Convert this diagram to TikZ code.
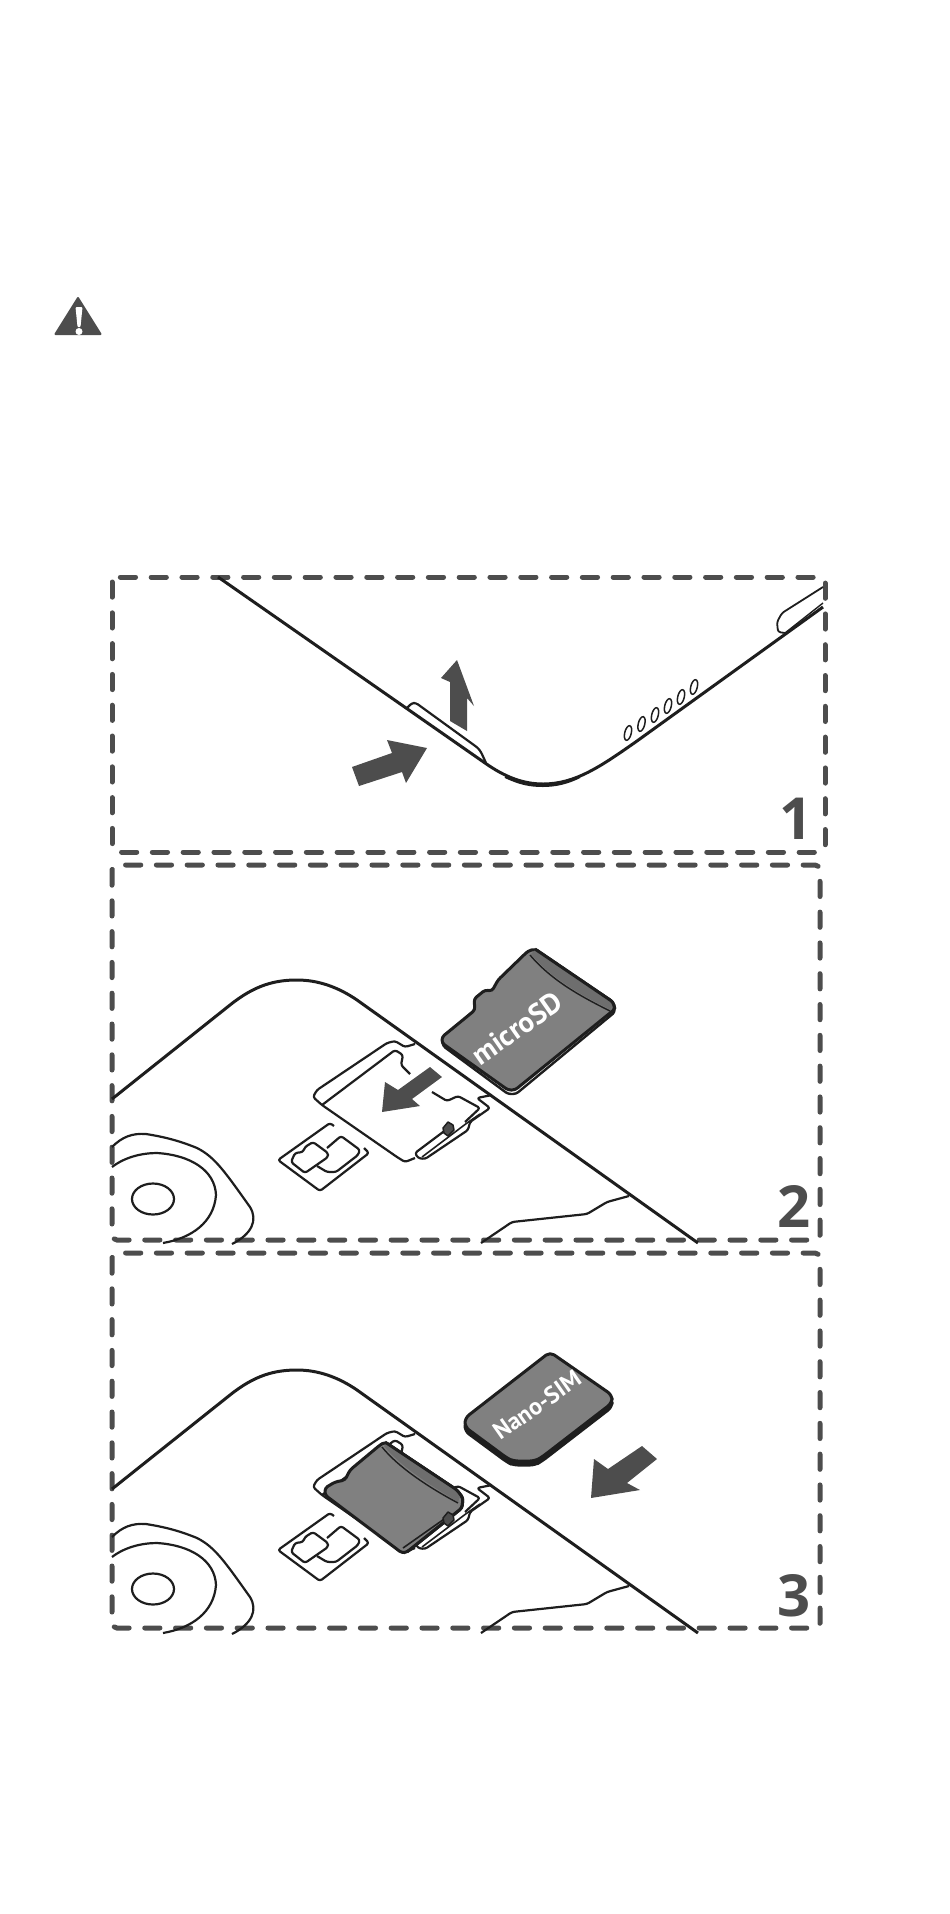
\documentclass[tikz,border=0pt]{standalone}
\usepackage{fontspec}
\setsansfont{Open Sans}
\newfontfamily\cardfont{PT Sans}
\usetikzlibrary{shapes.geometric}
\definecolor{dashgray}{HTML}{4D4D4D}
\definecolor{cardgray}{HTML}{808080}
\definecolor{ridgegray}{HTML}{6E6E6E}
\definecolor{inkdark}{HTML}{1E1E1E}
\tikzset{
  panelbox/.style={draw=dashgray, line width=5pt, line cap=round, rounded corners=5pt, dash pattern=on 15.2pt off 15.6pt},
  bodyline/.style={draw=inkdark, line width=3pt, line join=round},
  thinline/.style={draw=inkdark, line width=2.2pt, line join=round, rounded corners=2.5pt},
  cardshape/.style={draw=inkdark, fill=cardgray, line width=3pt, line join=round, rounded corners=3pt},
  bigarrow/.style={fill=dashgray},
  stepnum/.style={text=dashgray, font=\sffamily\bfseries\fontsize{58}{58}\selectfont, inner sep=0pt},
  cardtext/.style={text=white, rotate=35, inner sep=0pt}
}
\newcommand{\phoneback}{
  \draw[bodyline] (112,1099) -- (230,1005) .. controls (255,985) and (275,980) .. (297,980)
    .. controls (318,980) and (338,987) .. (357,1000) -- (698,1243);
  \draw[thinline, rounded corners=0pt] (112,1147) .. controls (122,1137) and (132,1133) .. (146,1134)
    .. controls (165,1137) and (180,1141) .. (197,1148) .. controls (215,1157) and (225,1172) .. (250,1207)
    .. controls (258,1220) and (252,1234) .. (232,1244);
  \draw[thinline, rounded corners=0pt] (112,1167) .. controls (125,1157) and (142,1153) .. (157,1153)
    .. controls (190,1155) and (215,1170) .. (216,1195) .. controls (214,1222) and (192,1238) .. (163,1243);
  \node[draw=inkdark, line width=2.2pt, ellipse, minimum width=42pt, minimum height=31pt, inner sep=0pt] (lens) at (153,1199) {};
  \draw[thinline] (481,1243) -- (512,1222) -- (587,1214) -- (607,1202) -- (629,1196);
  % sim slot
  \draw[thinline] (334,1126) -- (330,1123) -- (278,1160) -- (320,1191) -- (369,1153) -- (364,1148);
  \draw[thinline] (313,1142) -- (328,1153) -- (328,1157) -- (305,1173) -- (291,1162) -- (295,1153) -- (303,1152) -- (305,1147) -- cycle;
  \draw[thinline] (327,1148) -- (341,1136) -- (360,1150) -- (358,1155) -- (336,1172) -- (327,1172) -- (317,1166);
}
\newcommand{\simtray}{
  \draw[thinline] (415,1044) -- (405,1047) -- (395,1041) -- (387,1043) -- (317,1090) -- (313,1097) -- (322,1105)
    -- (397,1157) -- (405,1162) -- (415,1158);
  \draw[thinline] (322,1105) -- (395,1050) -- (403,1055) -- (401,1065) -- (410,1074);
  \draw[thinline] (432,1092) -- (447,1101) -- (458,1096) -- (480,1108) -- (465,1122);
  \draw[thinline] (492,1095) -- (477,1098) -- (490,1108) -- (470,1122) -- (468,1130) -- (425,1159) -- (418,1158) -- (415,1153) -- (447,1129);
  \draw[thinline, line width=1.6pt] (422,1157) -- (467,1123) -- (480,1114);
}
\newcommand{\traylatch}{
  \draw[draw=inkdark, fill=dashgray, line width=1.5pt, line join=round] (443,1128) -- (448,1122) -- (453,1125) -- (454,1130) -- (448,1136) -- (444,1133) -- cycle;
}
\begin{document}
\begin{tikzpicture}[x=1pt, y=-1pt]
  \useasboundingbox (0,0) rectangle (950,1914);
  % warning sign
  \draw[fill=dashgray, draw=dashgray, line width=2pt, line join=round] (78,298) -- (55.5,334) -- (100.5,334) -- cycle;
  \fill[white, rounded corners=1pt] (75.5,307) -- (82.5,307) -- (80.5,327) -- (77.5,327) -- cycle;
  \fill[white] (79,331.5) circle (3.5);
  % panel boxes
  \draw[panelbox] (112,577) rectangle (825,852);
  \draw[panelbox] (112,865) rectangle (820,1240);
  \draw[panelbox] (112,1253) rectangle (820,1628);
  % panel 1
  \draw[bodyline] (218,577) -- (485,763) .. controls (505,777) and (523,784) .. (543,784)
    .. controls (575,784) and (600,767) .. (637,741) -- (823,607);
  \draw[thinline, line width=2pt, rounded corners=0pt] (505,777) .. controls (520,784) and (530,786) .. (543,786)
    .. controls (556,786) and (568,783) .. (580,777);
  \draw[thinline, line width=1.4pt] (785,633) -- (823,603);
  \draw[thinline] (407,708) -- (412,703) -- (416,703) -- (478,748) -- (481,752) -- (486,763);
  \draw[thinline, line width=1.8pt] (823,587) -- (782,613) -- (777,622) -- (778,632) -- (785,633);
  \foreach \sx/\sy [count=\i] in {628/733, 641.5/724, 655/715, 668/706, 681/697, 694/687}
    \node[draw=inkdark, line width=1.5pt, ellipse, minimum width=6.5pt, minimum height=15pt, inner sep=0pt, rotate=-14] (slot\i) at (\sx,\sy) {};
  \fill[bigarrow] (457,660) -- (474,706) -- (467,698) -- (467,731) -- (450,721) -- (450,682) -- (441,678) -- cycle;
  \fill[bigarrow] (352,767) -- (359,786) -- (402,772) -- (406,783) -- (427,748) -- (387,740) -- (392,753) -- cycle;
  \node[stepnum, anchor=south east] (numone) at (813,840) {1};
  % panel 2
  \phoneback
  \simtray
  \traylatch
  \fill[bigarrow] (430,1067) -- (442,1077) -- (412,1099) -- (420,1106) -- (382,1112) -- (385,1082) -- (398,1090) -- cycle;
  \draw[cardshape, fill=white, line width=2.4pt] (537,952) -- (614,1005) -- (615,1012) -- (516,1094) -- (508,1094) -- (443,1046) -- (442,1040) -- cycle;
  \draw[cardshape] (535,949) -- (613,1002) -- (615,1009) -- (515,1090) -- (508,1090) -- (442,1043) -- (442,1037) -- (475,1010) -- (474,999) -- (485,990) -- (492,991) -- (498,980) -- (528,951) -- cycle;
  \fill[ridgegray] (531,954) .. controls (553,980) and (583,996) .. (611,1010) -- (613,1003) -- (535,950) -- cycle;
  \draw[thinline, line width=1.4pt] (530,955) .. controls (552,981) and (582,997) .. (610,1011);
  \draw[thinline, line width=3pt, rounded corners=3pt] (535,949) -- (613,1002) -- (615,1009);
  \node[cardtext, font=\cardfont\bfseries\fontsize{29}{29}\selectfont] (sdlabel) at (517,1028) {microSD};
  \node[stepnum, anchor=south east] (numtwo) at (811,1228) {2};
  % panel 3
  \begin{scope}[shift={(0,390)}]
    \phoneback
    \simtray
    \draw[cardshape] (385,1052) -- (457,1100) -- (463,1108) -- (462,1118) -- (407,1162) -- (402,1163) -- (325,1105) -- (325,1098) -- (335,1092) -- (345,1090) -- (350,1080) -- (380,1055) -- cycle;
    \fill[ridgegray] (384,1056) .. controls (400,1076) and (430,1095) .. (458,1112) -- (461,1104) -- (387,1053) -- cycle;
    \draw[thinline, line width=1.4pt] (382,1057) .. controls (398,1077) and (428,1097) .. (458,1113);
    \draw[thinline, line width=1.6pt] (403,1158) -- (447,1127);
    \draw[thinline, line width=3pt] (385,1052) -- (457,1100) -- (463,1108) -- (462,1118) -- (407,1162);
    \traylatch
  \end{scope}
  \draw[cardshape, fill=inkdark, rounded corners=5pt] (550,1356) -- (612,1399) -- (612,1407) -- (542,1461) -- (535,1465) -- (513,1465) -- (507,1462) -- (465,1431) -- (465,1422) -- cycle;
  \draw[cardshape, rounded corners=5pt] (550,1352) -- (612,1395) -- (612,1403) -- (542,1457) -- (535,1461) -- (513,1461) -- (507,1458) -- (465,1427) -- (465,1418) -- cycle;
  \node[cardtext, font=\cardfont\bfseries\fontsize{24}{24}\selectfont] (simlabel) at (537,1405) {Nano-SIM};
  \fill[bigarrow] (642,1446) -- (657,1459) -- (627,1483) -- (640,1490) -- (591,1498) -- (594,1459) -- (608,1469) -- cycle;
  \node[stepnum, anchor=south east] (numthree) at (811,1617) {3};
\end{tikzpicture}
\end{document}
